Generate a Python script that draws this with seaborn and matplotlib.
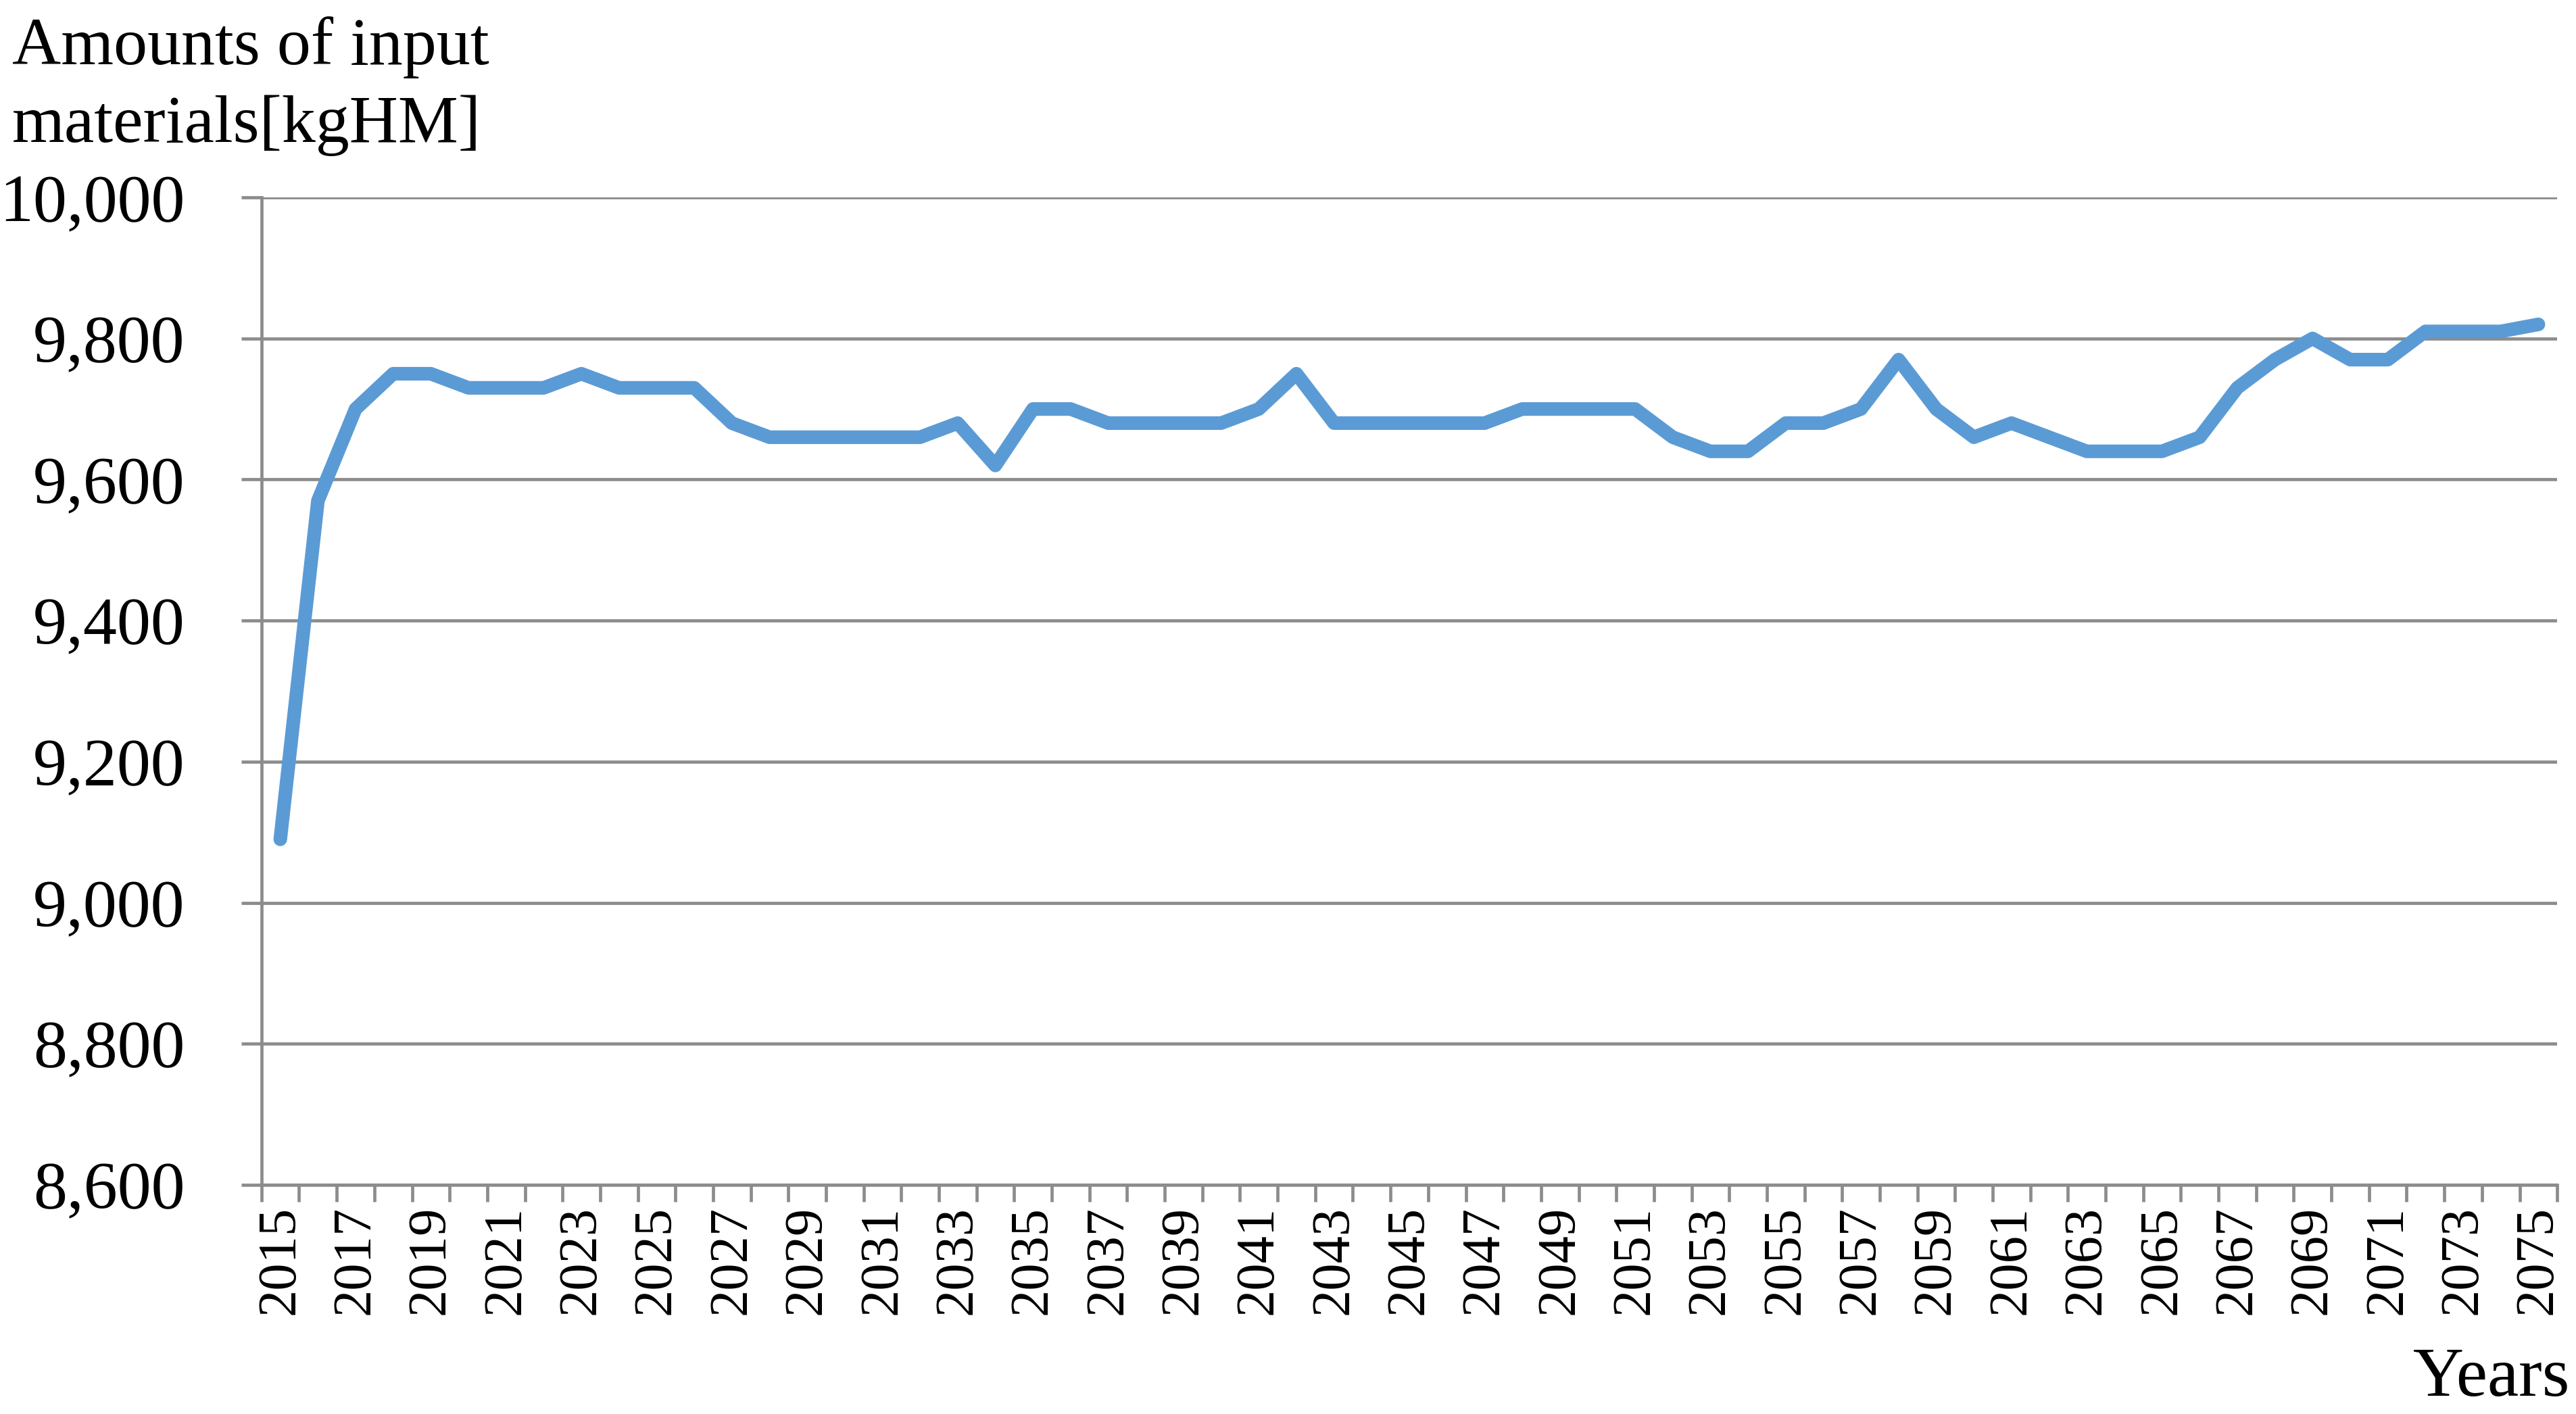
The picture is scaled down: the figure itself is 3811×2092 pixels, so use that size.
import pandas as pd
import matplotlib
matplotlib.use("Agg")
import matplotlib.pyplot as plt
import seaborn as sns
from matplotlib.ticker import FixedLocator, FuncFormatter

# Amounts of input materials per year (kgHM)
years = list(range(2015, 2076))
amounts = [9090, 9570, 9700, 9750, 9750, 9730, 9730, 9730, 9750, 9730,
           9730, 9730, 9680, 9660, 9660, 9660, 9660, 9660, 9680, 9620,
           9700, 9700, 9680, 9680, 9680, 9680, 9700, 9750, 9680, 9680,
           9680, 9680, 9680, 9700, 9700, 9700, 9700, 9660, 9640, 9640,
           9680, 9680, 9700, 9770, 9700, 9660, 9680, 9660, 9640, 9640,
           9640, 9660, 9730, 9770, 9800, 9770, 9770, 9810, 9810, 9810,
           9820]
y_ticks = [8600, 8800, 9000, 9200, 9400, 9600, 9800, 10000]

df = pd.DataFrame({"Year": years, "Amount": amounts})

sns.set_style("white")
plt.rcParams["font.family"] = ["Liberation Serif", "DejaVu Serif"]
plt.rcParams["text.color"] = "black"

fig = plt.figure(figsize=(38.11, 20.92), dpi=100)
ax = fig.add_axes([0.1015, 0.162, 0.8912, 0.6984])

grey = "#8c8c8c"
sns.lineplot(data=df, x="Year", y="Amount", ax=ax, color="#5b9bd5",
             linewidth=14.5, solid_capstyle="round", zorder=3)

ax.set_xlim(2014.5, 2075.5)
ax.set_ylim(8600, 10000)

# y axis: gridlines and outward ticks
ax.yaxis.set_major_locator(FixedLocator(y_ticks))
ax.yaxis.set_major_formatter(FuncFormatter(lambda v, p: f"{int(v):,}"))
ax.grid(axis="y", color=grey, linewidth=3.4, zorder=0)
ax.tick_params(axis="y", which="major", direction="out", length=21.6,
               width=3.4, color=grey, labelcolor="black", labelsize=72,
               pad=60, left=True)

# x axis: tick marks between categories, labels every second year
ax.xaxis.set_major_locator(FixedLocator(years[::2]))
ax.xaxis.set_minor_locator(FixedLocator([y - 0.5 for y in years] + [2075.5]))
ax.tick_params(axis="x", which="major", length=0, labelsize=58,
               labelcolor="black", labelrotation=90, pad=22)
ax.tick_params(axis="x", which="minor", direction="out", length=18,
               width=3.4, color=grey, bottom=True)

for side in ["top", "right"]:
    ax.spines[side].set_visible(False)
for side in ["left", "bottom"]:
    ax.spines[side].set_color(grey)
    ax.spines[side].set_linewidth(3.4)

ax.set_xlabel("")
ax.set_ylabel("")

fig.text(18 / 3811, 1 - 95 / 2092, "Amounts of input", fontsize=72,
         ha="left", va="baseline")
fig.text(18 / 3811, 1 - 210 / 2092, "materials[kgHM]", fontsize=72,
         ha="left", va="baseline")
fig.text(3802 / 3811, 1 - 2065 / 2092, "Years", fontsize=75,
         ha="right", va="baseline")

fig.savefig("out.png", dpi=100)
